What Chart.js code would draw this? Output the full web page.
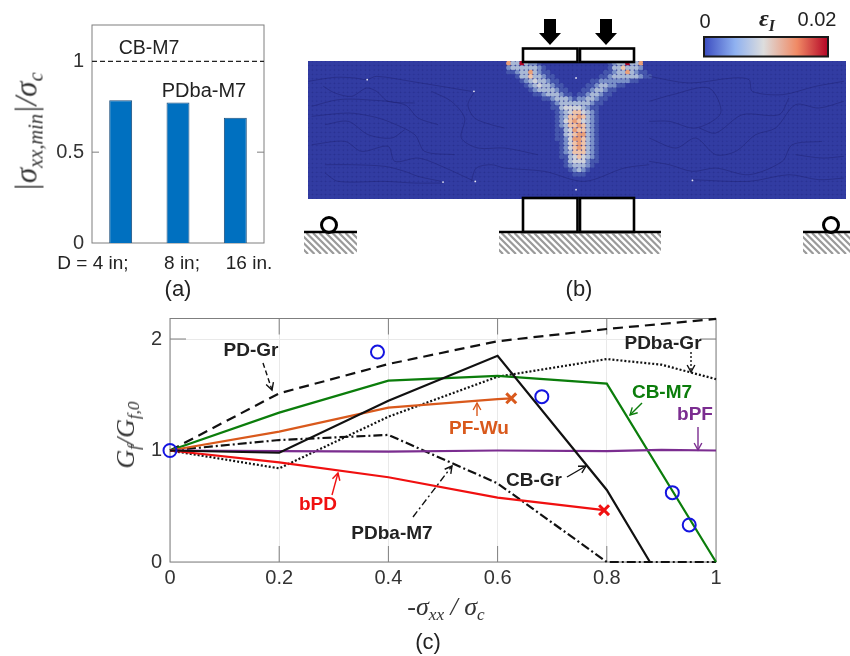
<!DOCTYPE html>
<html>
<head>
<meta charset="utf-8">
<title>Fracture energy figure</title>
<script src="https://cdn.jsdelivr.net/npm/chart.js@4"></script>
<style>
  html, body { margin: 0; padding: 0; background: #fff; }
  #page { position: relative; width: 850px; height: 656px; overflow: hidden; }
  canvas { position: absolute; left: 0; top: 0; }
  .t { position: absolute; white-space: nowrap; transform: translate(-50%, -50%); line-height: 1; font-family: "Liberation Sans", Arial, sans-serif; color: #222; }
  .b { font-weight: bold; font-size: 19px; }
  .m { font-family: "Liberation Serif", serif; font-style: italic; color: #333; }
  .m sub { font-size: 66%; vertical-align: -0.3em; line-height: 0; }
</style>
</head>
<body>
<div id="page">
  <canvas id="barChart" width="850" height="656"></canvas>
  <canvas id="beamChart" width="850" height="656"></canvas>
  <canvas id="lineChart" width="850" height="656"></canvas>
</div>
<script>
// panel (a)
var sizes = ["D = 4 in;", "8 in;", "16 in."];
var sizeLabelX = [93, 182, 249];
var pdbaStrength = [0.786, 0.773, 0.69];
var cbLineX = [0, 1];
var cbLineY = [1, 1];

// panel (c)
var stress = [0, 0.2, 0.4, 0.6, 0.8, 1];
var pdGr = [1, 1.513, 1.776, 1.98, 2.09, 2.18];
var cbM7 = [1, 1.34, 1.626, 1.67, 1.60, 0];
var pdbaM7 = [1, 1.094, 1.14, 0.705, 0, 0];
var cbGrX = [0, 0.2, 0.4, 0.6, 0.8, 0.879];
var cbGr = [1, 0.98, 1.447, 1.85, 0.646, 0];
var pdbaGrX = [0, 0.2, 0.4, 0.6, 0.8, 0.9, 1];
var pdbaGr = [1, 0.84, 1.303, 1.662, 1.82, 1.77, 1.64];
var bpfX = [0, 0.2, 0.4, 0.6, 0.8, 0.9, 1];
var bpf = [1, 0.995, 0.99, 1.0, 0.995, 1.005, 1];
var pfWuX = [0, 0.2, 0.4, 0.6, 0.625];
var pfWu = [1, 1.17, 1.384, 1.46, 1.468];
var bpdX = [0, 0.2, 0.4, 0.6, 0.795];
var bpd = [1, 0.894, 0.76, 0.577, 0.465];
var testX = [0, 0.38, 0.681, 0.92, 0.951];
var testY = [1, 1.883, 1.483, 0.622, 0.332];

// panel (b): strain level per particle around the loading zone, first column = 45
var strainRows = [
  "633732210000000000000001233733600",
  "233333321000000000000001335333200",
  "112336321100000000000011233632110",
  "001335332110000000000112333333211",
  "000123433211000000011222222211000",
  "000012343321100000112332211000000",
  "000001233332110001123321100000000",
  "000000112333211011233211000000000",
  "000000001123332122332110000000000",
  "000000000012333333321100000000000",
  "000000000011344443211000000000000",
  "000000000001234554321000000000000",
  "000000000001235565321000000000000",
  "000000000001245654321000000000000",
  "000000000001235565321000000000000",
  "000000000001134655321000000000000",
  "000000000001134566321000000000000",
  "000000000001124665321000000000000",
  "000000000000124565321000000000000",
  "000000000000124565321000000000000",
  "000000000000123555321000000000000",
  "000000000000113454321000000000000",
  "000000000000013444211000000000000",
  "000000000000012333210000000000000",
  "000000000000001232100000000000000",
  "000000000000000111000000000000000"
];
var strainColors = ["#323ca2", "#4657ad", "#7a90c8", "#a9b9d6", "#cfd2da", "#efc3a8", "#ea9f78", "#b40426"];
var beamCols = 122;
var beamRows = 31;
var firstHotCol = 45;

var seams = [
  [10,70, 90,58, 150,60, 185,65, 215,55, 330,72, 500,100],
  [55,85, 90,105, 140,115, 185,90, 215,100, 250,130, 330,135],
  [20,145, 100,125, 180,125, 300,140, 340,180, 400,200],
  [20,175, 130,165, 200,175, 250,190, 330,230, 360,280, 450,290],
  [60,200, 130,190, 190,230, 260,240, 300,215],
  [20,260, 120,250, 170,280, 250,265, 270,310, 340,300, 400,320, 510,370],
  [60,320, 140,320, 240,325, 300,340, 340,355, 410,370],
  [60,345, 100,370, 240,370, 330,375, 415,375],
  [380,100, 440,130, 480,180, 470,240, 520,270, 600,270, 700,290],
  [510,100, 490,140, 510,180, 560,200, 600,210],
  [500,370, 515,330, 560,320, 600,330, 720,340, 840,370, 960,330, 1035,320],
  [1035,55, 1155,75, 1285,60, 1335,65, 1345,100, 1435,110, 1535,85, 1620,70],
  [1035,130, 1105,110, 1215,90, 1250,165, 1175,210, 1095,190, 1035,190],
  [1185,210, 1235,225, 1315,170, 1425,170, 1455,120],
  [1035,240, 1115,270, 1175,240, 1235,290, 1295,280, 1355,230, 1415,210, 1475,140, 1545,150, 1620,130],
  [1035,310, 1095,320, 1165,340, 1235,330, 1335,350, 1435,310, 1465,260, 1555,250],
  [1165,365, 1335,370, 1455,350, 1545,365, 1620,360],
  [1475,290, 1555,300, 1620,295]
];
var speckX = [187, 508, 415, 512, 815, 1165, 815];
var speckY = [65, 100, 372, 370, 60, 367, 395];

// tick labels
var barYLabels = {0: "0", 0.5: "0.5", 1: "1"};
var stressLabels = {0: "0", 0.2: "0.2", 0.4: "0.4", 0.6: "0.6", 0.8: "0.8", 1: "1"};

function cellX(v) { return (v - 9) / 13.26; }
function cellY(v) { return (v - 9) / 13.35; }

var particles = [];
var particleColors = [];
for (var r = 0; r < beamRows; r++) {
  for (var c = 0; c < beamCols; c++) {
    var row = strainRows[r] || "";
    var level = Number(row.charAt(c - firstHotCol)) || 0;
    particles.push({x: c + 0.5, y: r + 0.5});
    particleColors.push(strainColors[level]);
  }
}

function pts(xs, ys) {
  return ys.map(function (y, i) { return {x: xs[i], y: y}; });
}

function addText(html, x, y, style, cls) {
  var d = document.createElement("div");
  d.className = "t " + (cls || "");
  d.innerHTML = html;
  d.style.left = x + "px";
  d.style.top = y + "px";
  d.style.cssText += ";" + (style || "");
  document.getElementById("page").appendChild(d);
}

function tickText(table) {
  return function (v) {
    var k = Number(v.toFixed(1));
    return table[k] !== undefined ? table[k] : "";
  };
}

// matlab style box: gray frame with ticks pointing inside, under the lines
function boxFrame(tickLen, xTicks, yTicks) {
  return {
    id: "boxFrame",
    beforeDatasetsDraw: function (chart) {
      var a = chart.chartArea, ctx = chart.ctx;
      ctx.save();
      ctx.strokeStyle = "#7f7f7f";
      ctx.lineWidth = 1;
      ctx.strokeRect(a.left, a.top, a.right - a.left, a.bottom - a.top);
      ctx.beginPath();
      yTicks.forEach(function (v) {
        var p = chart.scales.y.getPixelForValue(v);
        ctx.moveTo(a.left, p); ctx.lineTo(a.left + tickLen, p);
        ctx.moveTo(a.right, p); ctx.lineTo(a.right - tickLen, p);
      });
      xTicks.forEach(function (v) {
        var p = chart.scales.x.getPixelForValue(v);
        ctx.moveTo(p, a.top); ctx.lineTo(p, a.top + tickLen);
        ctx.moveTo(p, a.bottom); ctx.lineTo(p, a.bottom - tickLen);
      });
      ctx.stroke();
      ctx.restore();
    }
  };
}

// fixed axis sizes so the plot boxes land where they should
var yAxisWide = function (s) { s.width = 60; };
var xAxisTall = function (s) { s.height = 30; };
var xAxisNone = function (s) { s.height = 0; };
var tickFont = {family: "Liberation Sans", size: 20};

new Chart(document.getElementById("barChart"), {
  data: {
    labels: sizes,
    datasets: [
      {type: "bar", data: pdbaStrength, backgroundColor: "#0070c0", borderColor: "#1d4f7c", borderWidth: 1,
       barPercentage: 0.4, categoryPercentage: 1, grouped: false, order: 2},
      {type: "scatter", showLine: true, data: pts(cbLineX, cbLineY), xAxisID: "xLine", borderColor: "#222", borderWidth: 1.4,
       borderDash: [5, 3], pointRadius: 0, order: 1}
    ]
  },
  options: {
    responsive: false, animation: false, devicePixelRatio: 1,
    layout: {padding: {left: 32, right: 586, top: 25, bottom: 413}},
    plugins: {legend: {display: false}, tooltip: {enabled: false}},
    scales: {
      x: {type: "category", afterFit: xAxisNone, ticks: {display: false}, grid: {display: false}, border: {display: false}},
      xLine: {type: "linear", display: false, min: 0, max: 1},
      y: {min: 0, max: 1.2, afterFit: yAxisWide, grid: {display: false, drawTicks: false}, border: {display: false},
          ticks: {stepSize: 0.5, includeBounds: false, padding: 8, color: "#333", font: tickFont, callback: tickText(barYLabels)}}
    }
  },
  plugins: [boxFrame(7, [], [0.5])]
});

// supports, loading plates, arrows and colour bar around the beam
function hatch(ctx, x0, x1, y0, y1) {
  ctx.save();
  ctx.beginPath(); ctx.rect(x0, y0, x1 - x0, y1 - y0); ctx.clip();
  ctx.strokeStyle = "#9a9a9a"; ctx.lineWidth = 2.2;
  ctx.beginPath();
  for (var x = x0 - 30; x < x1 + 10; x += 6.5) {
    ctx.moveTo(x, y0); ctx.lineTo(x + y1 - y0, y1);
  }
  ctx.stroke();
  ctx.restore();
}

function downArrow(ctx, x) {
  ctx.fillStyle = "#000";
  ctx.beginPath();
  ctx.moveTo(x - 6, 19); ctx.lineTo(x + 6, 19); ctx.lineTo(x + 6, 33); ctx.lineTo(x + 11, 33);
  ctx.lineTo(x, 45); ctx.lineTo(x - 11, 33); ctx.lineTo(x - 6, 33);
  ctx.closePath(); ctx.fill();
}

var beamSketch = {
  id: "beamSketch",
  beforeDatasetsDraw: function (chart) {
    var a = chart.chartArea;
    chart.ctx.fillStyle = "#2a3290";
    chart.ctx.fillRect(a.left, a.top, a.right - a.left, a.bottom - a.top);
  },
  afterDatasetsDraw: function (chart) {
    var ctx = chart.ctx;
    ctx.save();
    ctx.strokeStyle = "#000"; ctx.lineWidth = 2.6;
    ctx.fillStyle = "#fff";
    ctx.fillRect(523, 48.5, 111, 13);
    ctx.strokeRect(523, 48.5, 54.5, 13.5);
    ctx.strokeRect(580, 48.5, 54, 13.5);
    ctx.strokeRect(523, 198, 54.5, 34);
    ctx.strokeRect(580, 198, 54, 34);
    downArrow(ctx, 550);
    downArrow(ctx, 606);
    hatch(ctx, 304, 357, 233, 254);
    hatch(ctx, 499, 661, 233, 254);
    hatch(ctx, 803, 850, 233, 254);
    ctx.beginPath();
    ctx.moveTo(304, 232); ctx.lineTo(357, 232);
    ctx.moveTo(499, 232); ctx.lineTo(661, 232);
    ctx.moveTo(803, 232); ctx.lineTo(850, 232);
    ctx.stroke();
    ctx.lineWidth = 3;
    ctx.beginPath(); ctx.arc(329, 225, 7.5, 0, 2 * Math.PI); ctx.stroke();
    ctx.beginPath(); ctx.arc(831, 225, 7.5, 0, 2 * Math.PI); ctx.stroke();
    var g = ctx.createLinearGradient(704, 0, 828, 0);
    g.addColorStop(0, "#3b4cc0");
    g.addColorStop(0.25, "#8fb1f0");
    g.addColorStop(0.48, "#dddddd");
    g.addColorStop(0.75, "#f08a65");
    g.addColorStop(1, "#b40426");
    ctx.fillStyle = g;
    ctx.fillRect(704, 37, 124, 19.5);
    ctx.strokeStyle = "#1a1a1a"; ctx.lineWidth = 2;
    ctx.strokeRect(704, 37, 124, 19.5);
    ctx.restore();
  }
};

var beamSets = [{data: pts(speckX.map(cellX), speckY.map(cellY)), showLine: false, pointRadius: 0.9, pointBorderWidth: 0,
                 pointBackgroundColor: "#e6e6f2"}];
seams.forEach(function (s) {
  var line = [];
  for (var i = 0; i < s.length; i += 2) line.push({x: cellX(s[i]), y: cellY(s[i + 1])});
  beamSets.push({data: line, showLine: true, tension: 0.3, pointRadius: 0, borderColor: "rgba(28,32,110,0.45)", borderWidth: 1});
});
beamSets.push({data: particles, pointRadius: 2.5, pointBorderWidth: 0, pointBackgroundColor: particleColors});

new Chart(document.getElementById("beamChart"), {
  type: "scatter",
  data: {datasets: beamSets},
  options: {
    responsive: false, animation: false, devicePixelRatio: 1,
    layout: {padding: {left: 308, right: 3, top: 61, bottom: 457}},
    plugins: {legend: {display: false}, tooltip: {enabled: false}},
    scales: {
      x: {display: false, min: 0, max: beamCols},
      y: {display: false, min: 0, max: beamRows, reverse: true}
    }
  },
  plugins: [beamSketch]
});

// thin annotation arrows of panel (c), [x0, y0, x1, y1, colour, dash]
var callouts = [
  [263, 363, 272, 390, "#111", [5, 3]],
  [332, 495, 338, 473, "#f01010", []],
  [413, 517, 452, 466, "#111", [7, 3, 2, 3]],
  [691, 352, 691, 372, "#111", [2, 2]],
  [642, 403, 630, 415, "#0b7d0b", []],
  [698, 427, 698, 450, "#7b2d90", []],
  [477, 416, 477, 403, "#d9591c", []],
  [567, 477, 586, 466, "#111", []]
];

var calloutArrows = {
  id: "calloutArrows",
  afterDatasetsDraw: function (chart) {
    var ctx = chart.ctx;
    callouts.forEach(function (c) {
      var ang = Math.atan2(c[3] - c[1], c[2] - c[0]), h = 8;
      ctx.save();
      ctx.strokeStyle = c[4]; ctx.lineWidth = 1.4;
      ctx.setLineDash(c[5]);
      ctx.beginPath(); ctx.moveTo(c[0], c[1]); ctx.lineTo(c[2], c[3]); ctx.stroke();
      ctx.setLineDash([]);
      ctx.beginPath();
      ctx.moveTo(c[2] - h * Math.cos(ang - 0.5), c[3] - h * Math.sin(ang - 0.5));
      ctx.lineTo(c[2], c[3]);
      ctx.lineTo(c[2] - h * Math.cos(ang + 0.5), c[3] - h * Math.sin(ang + 0.5));
      ctx.stroke();
      ctx.restore();
    });
  }
};

function lastCross(size) {
  return function (ctx) { return ctx.dataIndex === ctx.dataset.data.length - 1 ? size : 0; };
}

new Chart(document.getElementById("lineChart"), {
  type: "scatter",
  data: {
    datasets: [
      {label: "Test", data: pts(testX, testY), showLine: false, pointStyle: "circle", pointRadius: 6.5,
       pointBorderColor: "#1414e0", pointBorderWidth: 2, pointBackgroundColor: "rgba(0,0,0,0)"},
      {label: "CB-Gr", data: pts(cbGrX, cbGr), borderColor: "#111"},
      {label: "bPD", data: pts(bpdX, bpd), borderColor: "#f01010", pointStyle: "crossRot",
       pointRadius: lastCross(7), pointBorderColor: "#f01010", pointBorderWidth: 3},
      {label: "bPF", data: pts(bpfX, bpf), borderColor: "#7b2d90"},
      {label: "PF-Wu", data: pts(pfWuX, pfWu), borderColor: "#d9591c", pointStyle: "crossRot",
       pointRadius: lastCross(7), pointBorderColor: "#d9591c", pointBorderWidth: 3},
      {label: "CB-M7", data: pts(stress, cbM7), borderColor: "#0b7d0b"},
      {label: "PDba-M7", data: pts(stress, pdbaM7), borderColor: "#111", borderDash: [9, 3, 2, 3]},
      {label: "PDba-Gr", data: pts(pdbaGrX, pdbaGr), borderColor: "#111", borderDash: [2, 2]},
      {label: "PD-Gr", data: pts(stress, pdGr), borderColor: "#111", borderDash: [10, 6]}
    ]
  },
  options: {
    responsive: false, animation: false, devicePixelRatio: 1,
    showLine: true,
    datasets: {scatter: {clip: false}},
    elements: {line: {borderWidth: 2.2, tension: 0}, point: {radius: 0}},
    layout: {padding: {left: 110, right: 134, top: 318.5, bottom: 64}},
    plugins: {legend: {display: false}, tooltip: {enabled: false}},
    scales: {
      x: {min: 0, max: 1, afterFit: xAxisTall, grid: {color: "#e9e9e9", drawTicks: false}, border: {display: false},
          ticks: {stepSize: 0.2, includeBounds: false, padding: 4, maxRotation: 0, color: "#333", font: tickFont, callback: tickText(stressLabels)}},
      y: {min: 0, max: 2.184, afterFit: yAxisWide, grid: {color: "#e9e9e9", drawTicks: false}, border: {display: false},
          ticks: {stepSize: 1, includeBounds: false, padding: 8, color: "#333", font: tickFont}}
    }
  },
  plugins: [boxFrame(16, [0.2, 0.4, 0.6, 0.8], [2]), calloutArrows]
});

// texts
sizes.forEach(function (s, i) { addText(s, sizeLabelX[i], 262, "font-size:19px"); });
addText("CB-M7", 149, 48, "font-size:19.5px");
addText("PDba-M7", 204, 90, "font-size:20px");
addText("(a)", 178, 289, "font-size:22px");
addText("(b)", 579, 289, "font-size:22px");
addText("(c)", 428, 642, "font-size:22px");
addText("0", 705, 21, "font-size:20px");
addText("0.02", 817, 19, "font-size:20px");
addText("<b>&epsilon;<sub>I</sub></b>", 767, 18, "font-size:24px;color:#222", "m");
addText("|&sigma;<sub>xx,min</sub>|/&sigma;<sub>c</sub>", 26, 132, "font-size:31px;transform:translate(-50%,-50%) rotate(-90deg)", "m");
addText("G<sub>f</sub>/G<sub>f,0</sub>", 126, 435, "font-size:26px;transform:translate(-50%,-50%) rotate(-90deg)", "m");
addText("-&sigma;<sub>xx</sub> / &sigma;<sub>c</sub>", 446, 607, "font-size:26px", "m");
addText("PD-Gr", 251, 349, "", "b");
addText("bPD", 318, 503, "color:#f01010", "b");
addText("PDba-M7", 392, 532, "", "b");
addText("PDba-Gr", 663, 342, "", "b");
addText("CB-M7", 662, 391, "color:#0b7d0b", "b");
addText("bPF", 695, 413, "color:#7b2d90", "b");
addText("PF-Wu", 479, 427, "color:#d9591c", "b");
addText("CB-Gr", 534, 479, "", "b");
</script>
</body>
</html>
